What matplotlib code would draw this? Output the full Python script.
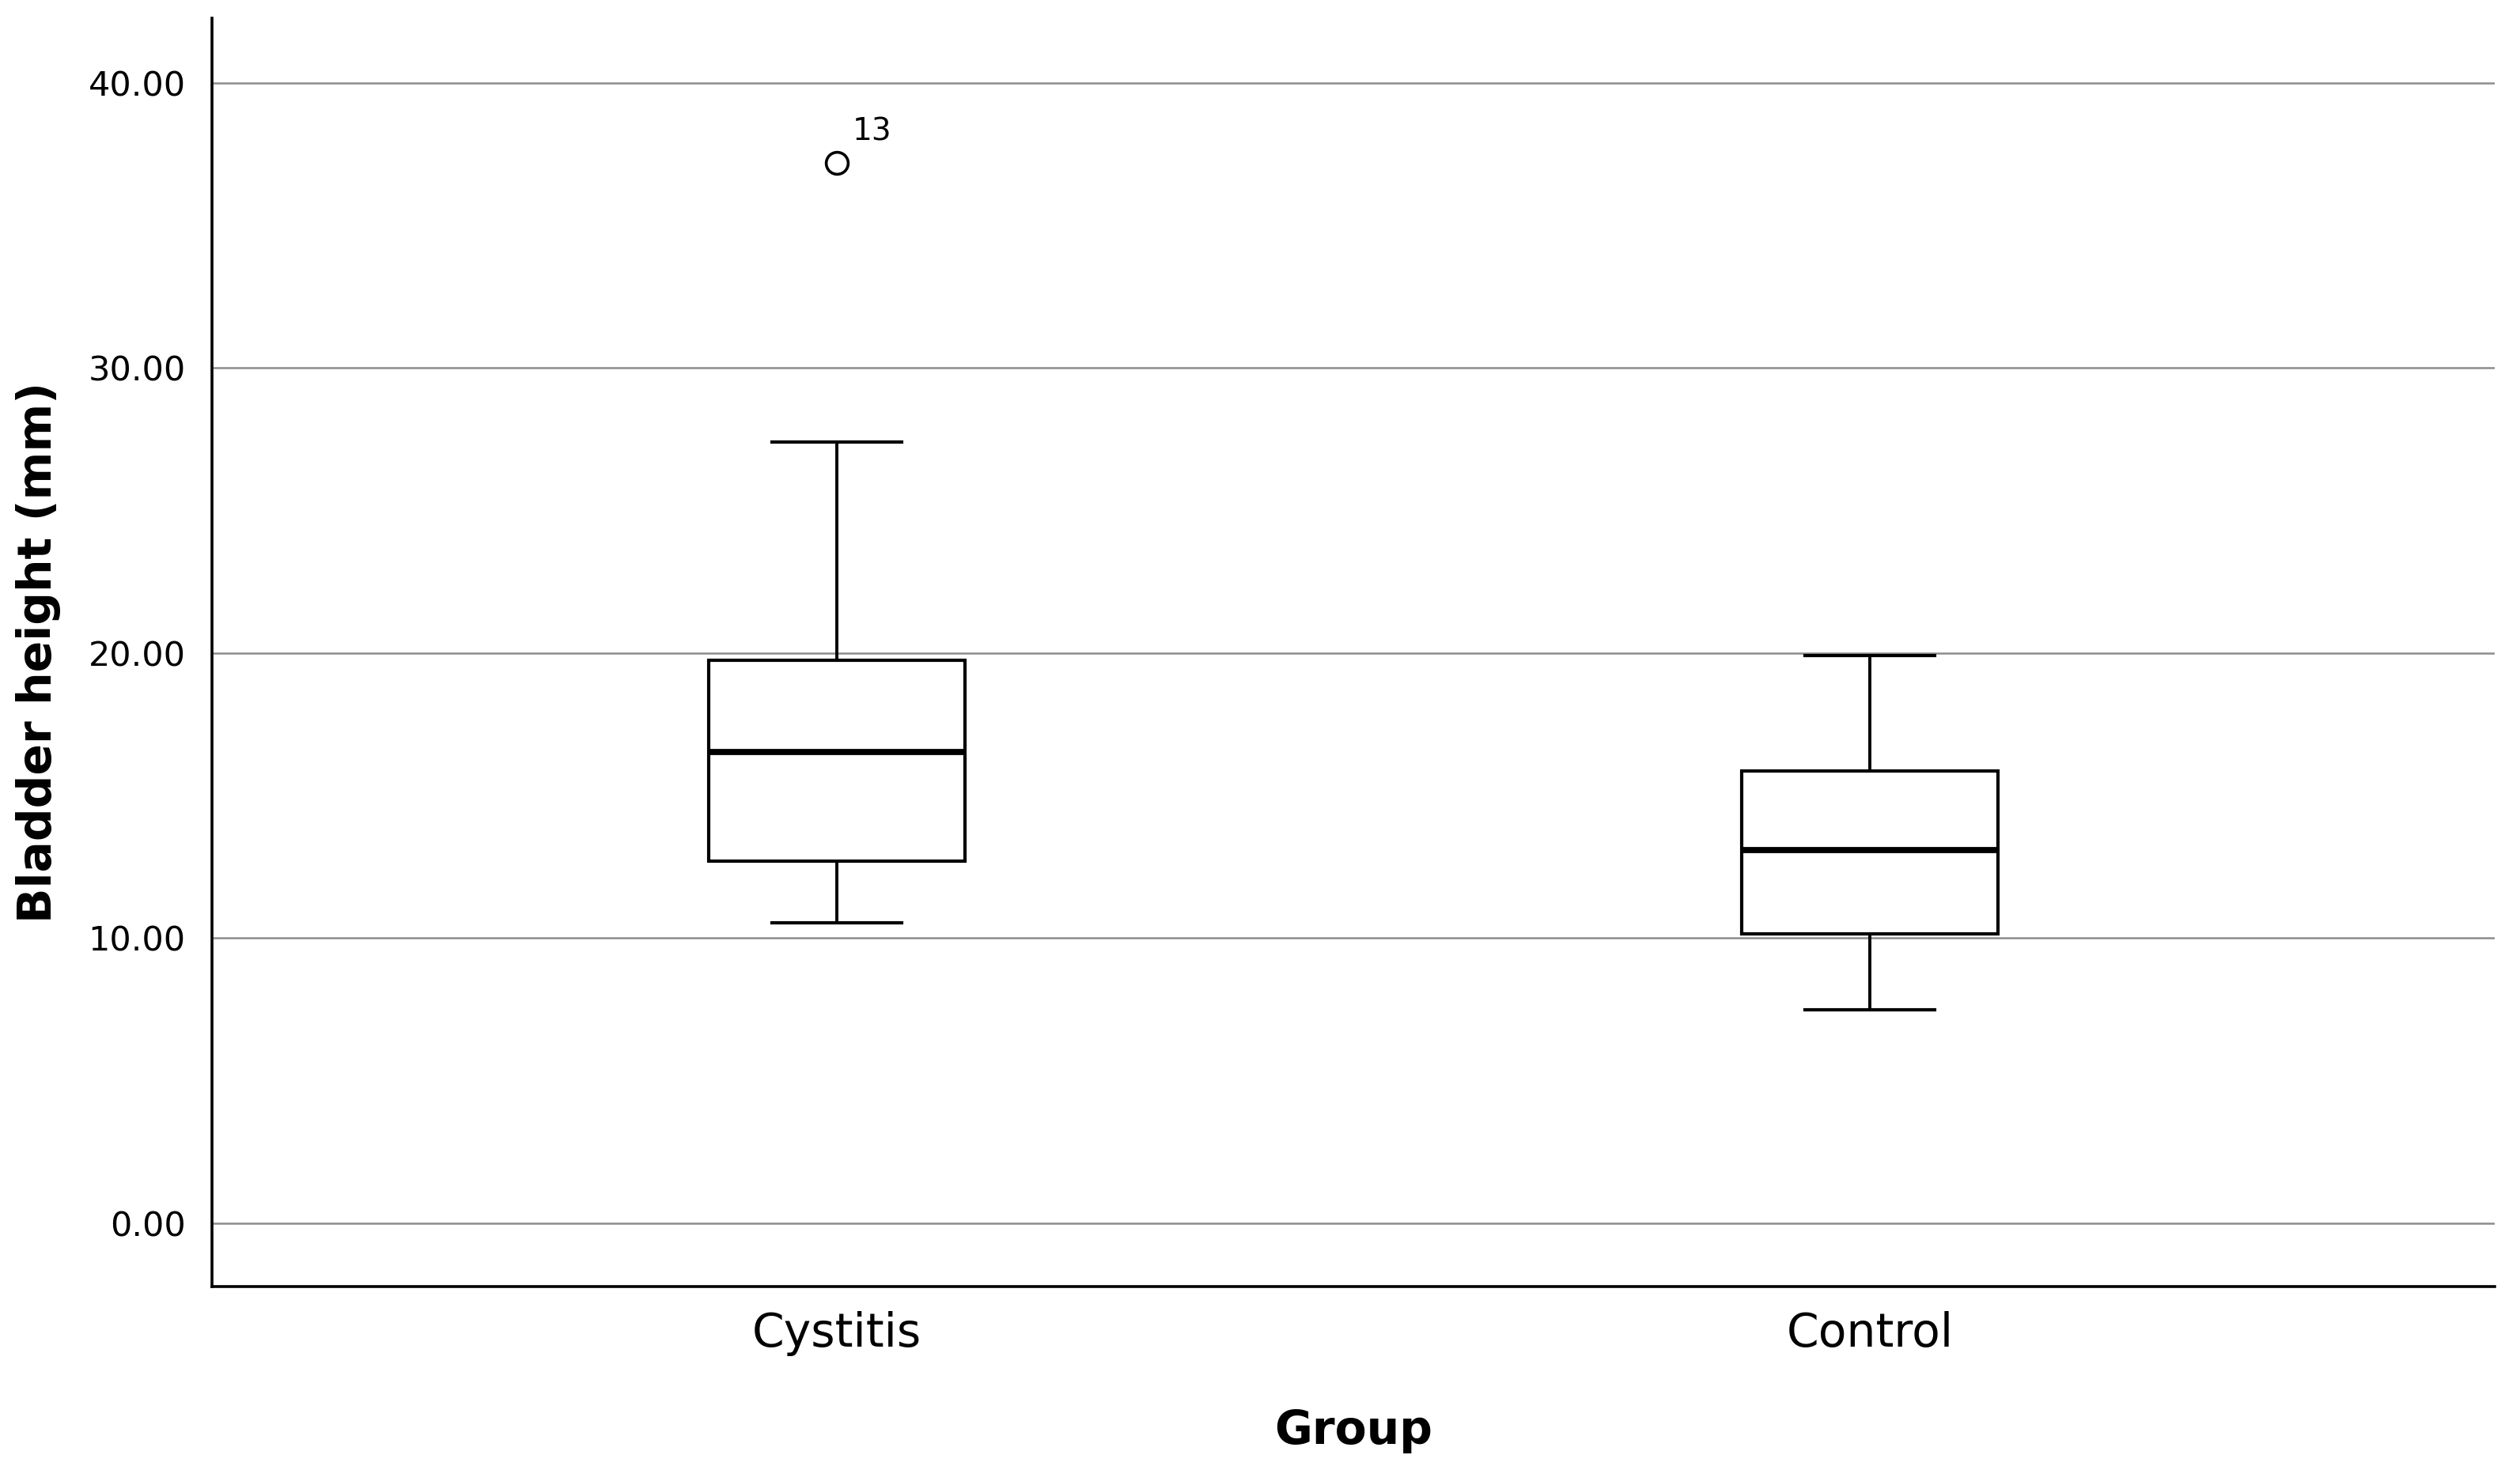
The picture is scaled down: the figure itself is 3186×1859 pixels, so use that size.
import matplotlib
matplotlib.use("Agg")
import matplotlib.pyplot as plt

groups = ["Cystitis", "Control"]
whisker_low = [10.55, 7.50]
q1 = [12.69, 10.15]
median = [16.54, 13.10]
q3 = [19.75, 15.87]
whisker_high = [27.40, 19.92]
outliers = [[37.2], []]
outlier_ids = [["13"], []]
yticks = [0, 10, 20, 30, 40]

plt.rcParams['font.family'] = ['DejaVu Sans']

fig = plt.figure(figsize=(15.93, 9.295), dpi=200)
ax = fig.add_axes([0.0841, 0.1248, 0.9059, 0.8628])

stats = []
for i in range(len(groups)):
    stats.append({
        'label': groups[i],
        'whislo': whisker_low[i],
        'q1': q1[i],
        'med': median[i],
        'q3': q3[i],
        'whishi': whisker_high[i],
        'fliers': outliers[i],
    })

pos = list(range(1, len(groups) + 1))
ax.bxp(stats, positions=pos, widths=0.248, capwidths=0.125, patch_artist=True,
       boxprops=dict(facecolor='white', edgecolor='black', linewidth=1.5),
       medianprops=dict(color='black', linewidth=2.8),
       whiskerprops=dict(color='black', linewidth=1.4),
       capprops=dict(color='black', linewidth=1.5),
       flierprops=dict(marker='o', markerfacecolor='none', markeredgecolor='black',
                       markersize=10, markeredgewidth=1.3),
       zorder=3)

for i in range(len(groups)):
    for v, lab in zip(outliers[i], outlier_ids[i]):
        ax.annotate(lab, (pos[i], v), xytext=(7, 14), textcoords='offset points',
                    ha='left', va='center', fontsize=14)

ax.set_xlim(0.395, 2.605)
ax.set_ylim(-2.22, 42.27)
ax.set_yticks(yticks)
ax.set_yticklabels(["%.2f" % t for t in yticks], fontsize=15.5)
ax.set_xticks(pos)
ax.set_xticklabels(groups, fontsize=21)
ax.tick_params(axis='both', length=0)
ax.tick_params(axis='y', pad=12)
ax.tick_params(axis='x', pad=11)

ax.yaxis.grid(True, color='#8c8c8c', linewidth=0.9, zorder=0)
ax.set_axisbelow(True)

for s in ['top', 'right']:
    ax.spines[s].set_visible(False)
for s in ['left', 'bottom']:
    ax.spines[s].set_linewidth(1.3)

ax.set_xlabel("Group", fontsize=21, fontweight='bold', labelpad=24)
ax.set_ylabel("Bladder height (mm)", fontsize=21, fontweight='bold', va='center')
ax.yaxis.set_label_coords(-0.076, 0.5)

fig.savefig("out.png", dpi=200)
